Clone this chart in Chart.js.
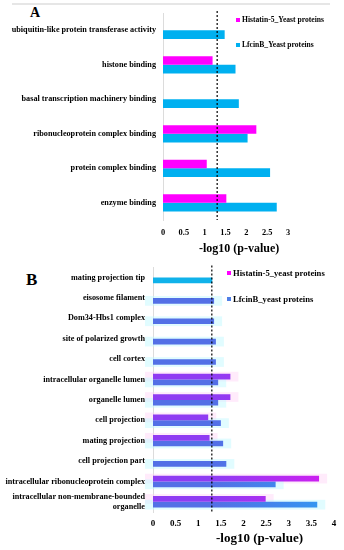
<!DOCTYPE html>
<html><head><meta charset="utf-8">
<script src="https://cdn.jsdelivr.net/npm/chart.js@4/dist/chart.umd.min.js"></script>
<style>
html,body{margin:0;padding:0;background:#fff;}
body{width:344px;height:550px;position:relative;overflow:hidden;font-family:"Liberation Serif","DejaVu Serif",serif;font-weight:bold;color:#000;}
.abs{position:absolute;white-space:nowrap;}
#topline{position:absolute;left:12px;top:3px;width:318px;height:2px;background:#e6e6e6;}
.lg{position:absolute;white-space:nowrap;display:flex;align-items:center;}
.sw{display:inline-block;margin-right:2px;}
</style></head>
<body>
<div id="topline"></div>
<div class="abs" style="left:30px;top:5px;font-size:14px;">A</div>
<div class="abs" style="left:26px;top:270px;font-size:17px;">B</div>
<div style="position:absolute;left:0;top:0;width:344px;height:250px;"><canvas id="cA" width="344" height="250"></canvas></div>
<div style="position:absolute;left:0;top:250px;width:344px;height:300px;"><canvas id="cB" width="344" height="300"></canvas></div>
<div class="abs" style="left:199px;top:241px;font-size:12px;">-log10 (p-value)</div>
<div class="abs" style="left:216px;top:530px;font-size:13px;">-log10 (p-value)</div>
<div id="legA1" class="lg" style="left:236px;top:15px;font-size:7.6px;"><span class="sw" style="width:4px;height:4px;background:#ff00ff;"></span>Histatin-5_Yeast proteins</div>
<div id="legA2" class="lg" style="left:236px;top:40px;font-size:7.6px;"><span class="sw" style="width:4px;height:4px;background:#00b0f0;"></span>LfcinB_Yeast proteins</div>
<div id="legB1" class="lg" style="left:227px;top:268px;font-size:8.6px;"><span class="sw" style="width:4px;height:4px;background:#ff00ff;"></span>Histatin-5_yeast proteins</div>
<div id="legB2" class="lg" style="left:227px;top:294px;font-size:8.6px;"><span class="sw" style="width:4px;height:4px;background:#4f7fe6;"></span>LfcinB_yeast proteins</div>
<script>
// ---------- DATA ----------
const seriesNamesA = ["Histatin-5_Yeast proteins", "LfcinB_Yeast proteins"];
const categoriesA = [
  "ubiquitin-like protein transferase activity",
  "histone binding",
  "basal transcription machinery binding",
  "ribonucleoprotein complex binding",
  "protein complex binding",
  "enzyme binding"
];
const histatinA = [null, 1.19, null, 2.24, 1.05, 1.52];
const lfcinA    = [1.48, 1.74, 1.82, 2.03, 2.57, 2.73];
const ticksA = [0, 0.5, 1, 1.5, 2, 2.5, 3];

const seriesNamesB = ["Histatin-5_yeast proteins", "LfcinB_yeast proteins"];
const categoriesB = [
  "mating projection tip",
  "eisosome filament",
  "Dom34-Hbs1 complex",
  "site of polarized growth",
  "cell cortex",
  "intracellular organelle lumen",
  "organelle lumen",
  "cell projection",
  "mating projection",
  "cell projection part",
  "intracellular ribonucleoprotein complex",
  ["intracellular non-membrane-bounded", "organelle"]
];
const histatinB = [null, null, null, null, null, 1.71, 1.71, 1.22, 1.25, null, 3.67, 2.49];
const lfcinB    = [1.31, 1.35, 1.35, 1.39, 1.39, 1.44, 1.44, 1.50, 1.55, 1.62, 2.71, 3.63];
const ticksB = [0, 0.5, 1, 1.5, 2, 2.5, 3, 3.5, 4];

const threshold = 1.3; // -log10(0.05)

// ---------- STYLE ----------
const FONT = '"Liberation Serif","DejaVu Serif",serif';

const thresholdLine = {
  id: 'thresholdLine',
  afterDatasetsDraw(chart) {
    const {ctx, chartArea, scales} = chart;
    const x = scales.x.getPixelForValue(threshold);
    ctx.save();
    ctx.strokeStyle = '#000';
    ctx.lineWidth = 1.2;
    ctx.setLineDash([2, 2]);
    ctx.beginPath();
    ctx.moveTo(x, chartArea.top - 2);
    ctx.lineTo(x, chartArea.bottom);
    ctx.stroke();
    ctx.restore();
  }
};

const halo = {
  id: 'halo',
  beforeDatasetsDraw(chart) {
    const {ctx, chartArea} = chart;
    ctx.save();
    chart.data.datasets.forEach((ds, di) => {
      const meta = chart.getDatasetMeta(di);
      meta.data.forEach((el, i) => {
        if (ds.data[i] == null || i === 0) return;
        const h = el.height;
        ctx.fillStyle = di === 0 ? 'rgba(255,205,245,0.4)' : 'rgba(195,250,255,0.5)';
        ctx.fillRect(chartArea.left - 8, el.y - h / 2 - 2, el.x - chartArea.left + 16, h + 4);
      });
    });
    ctx.restore();
  }
};

function gradFill(c0, c1) {
  return (context) => {
    const chart = context.chart;
    const a = chart.chartArea;
    if (!a) return c0;
    const g = chart.ctx.createLinearGradient(a.left, 0, a.right, 0);
    g.addColorStop(0, c0);
    g.addColorStop(0.35, c0);
    g.addColorStop(1, c1);
    return g;
  };
}

function makeOptions(cfg) {
  return {
    indexAxis: 'y',
    responsive: false,
    animation: false,
    layout: { padding: { left: 0, right: cfg.padRight, top: cfg.padTop, bottom: 0 } },
    plugins: { legend: { display: false }, tooltip: { enabled: false } },
    datasets: { bar: { categoryPercentage: cfg.catPct, barPercentage: 1.0 } },
    scales: {
      y: {
        grid: { display: false, drawTicks: false },
        border: { display: true, color: '#dcdcdc', width: 1 },
        afterFit(scale) { scale.width = cfg.yWidth; },
        ticks: {
          padding: cfg.yPad, color: '#000', autoSkip: false,
          font: { family: FONT, weight: 'bold', size: cfg.yFont, lineHeight: 1.15 }
        }
      },
      x: {
        min: 0, max: cfg.max,
        grid: { display: false, drawTicks: false },
        border: { display: false },
        afterFit(scale) { scale.height = cfg.xHeight; },
        afterBuildTicks(scale) { scale.ticks = cfg.ticks.map(v => ({ value: v })); },
        ticks: {
          padding: cfg.xPad, color: '#000', autoSkip: false, maxRotation: 0,
          font: { family: FONT, weight: 'bold', size: cfg.xFont },
          callback: (v) => String(v)
        }
      }
    }
  };
}

new Chart(document.getElementById('cA'), {
  type: 'bar',
  data: {
    labels: categoriesA,
    datasets: [
      { label: seriesNamesA[0], data: histatinA, backgroundColor: '#ff00ff' },
      { label: seriesNamesA[1], data: lfcinA, backgroundColor: '#00b0f0' }
    ]
  },
  options: makeOptions({ padRight: 56, padTop: 13, catPct: 0.5, yWidth: 163, yPad: 7, yFont: 8.2,
    max: 3, xHeight: 30, ticks: ticksA, xPad: 8, xFont: 8.4 }),
  plugins: [thresholdLine]
});

new Chart(document.getElementById('cB'), {
  type: 'bar',
  data: {
    labels: categoriesB,
    datasets: [
      { label: seriesNamesB[0], data: histatinB, backgroundColor: gradFill('#8f3cf2', '#d41cf0') },
      { label: seriesNamesB[1], data: lfcinB,
        backgroundColor: (ctx) => ctx.dataIndex === 0 ? '#10b2ea' : gradFill('#5370e6', '#2f9cf2')(ctx) }
    ]
  },
  options: makeOptions({ padRight: 10, padTop: 13, catPct: 0.56, yWidth: 153, yPad: 8, yFont: 8.2,
    max: 4, xHeight: 38, ticks: ticksB, xPad: 6, xFont: 9 }),
  plugins: [halo, thresholdLine]
});
</script>
</body></html>
